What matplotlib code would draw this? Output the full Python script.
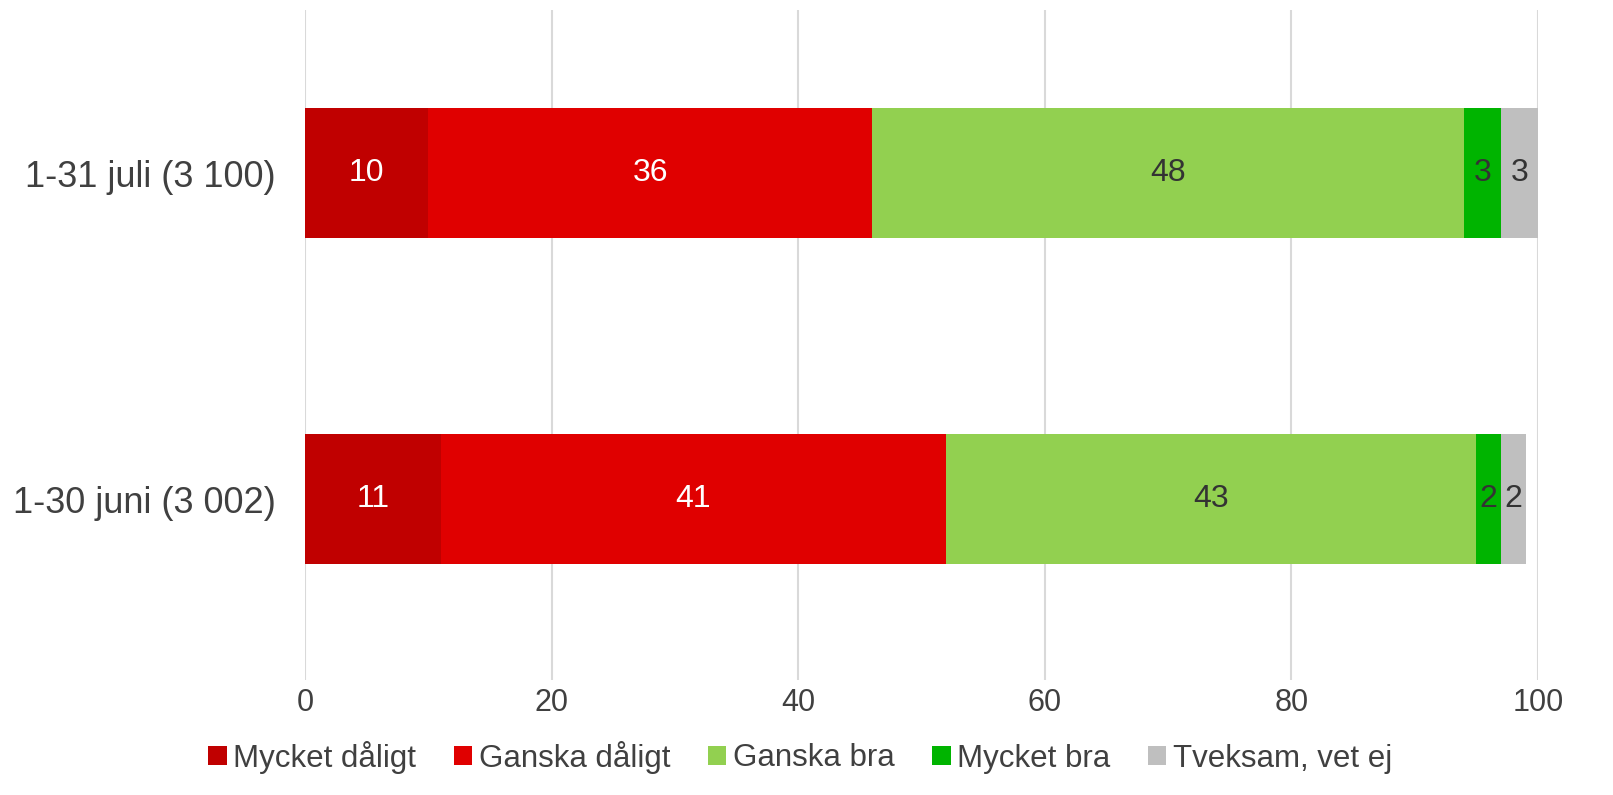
import matplotlib
matplotlib.use("Agg")
import matplotlib.pyplot as plt
import numpy as np

plt.rcParams['font.family'] = ['Liberation Sans', 'DejaVu Sans']

categories = ["1-30 juni (3 002)", "1-31 juli (3 100)"]
series_names = ["Mycket dåligt", "Ganska dåligt", "Ganska bra", "Mycket bra", "Tveksam, vet ej"]
values = {
    "Mycket dåligt": [11, 10],
    "Ganska dåligt": [41, 36],
    "Ganska bra": [43, 48],
    "Mycket bra": [2, 3],
    "Tveksam, vet ej": [2, 3],
}
colors = ["#C00000", "#E00000", "#92D050", "#00B400", "#BFBFBF"]
label_colors = ["white", "white", "#333333", "#333333", "#333333"]
xticks = [0, 20, 40, 60, 80, 100]

fig = plt.figure(figsize=(16.13, 7.95), dpi=100)
ax = fig.add_axes([305/1613, 1-680/795, (1538-305)/1613, 670/795])

y = np.arange(len(categories))
left = np.zeros(len(categories))
handles = []
for name, col, lc in zip(series_names, colors, label_colors):
    v = np.array(values[name], dtype=float)
    b = ax.barh(y, v, left=left, height=0.4, color=col, label=name, linewidth=0)
    handles.append(b)
    for yi, (l, w) in enumerate(zip(left, v)):
        ax.text(l + w/2, yi, f"{int(w)}", ha='center', va='center', fontsize=23, color=lc)
    left += v

ax.set_xlim(0, 100)
ax.set_ylim(-0.555, 1.5)
ax.set_xticks(xticks)
ax.set_xticklabels([str(t) for t in xticks], fontsize=22, color="#404040")
ax.set_yticks(y)
ax.set_yticklabels(categories, fontsize=26, color="#404040")
ax.tick_params(axis='both', length=0)
ax.tick_params(axis='x', pad=6)
ax.tick_params(axis='y', pad=21)
ax.xaxis.grid(True, color="#D9D9D9", linewidth=1.5)
ax.set_axisbelow(True)
for s in ax.spines.values():
    s.set_visible(False)

fig.legend(handles=handles, labels=series_names, loc='center', bbox_to_anchor=(800/1613, 1-757/795),
           ncol=5, frameon=False, fontsize=22.5, handlelength=0.6, handleheight=0.6,
           handletextpad=0.2, columnspacing=1.2, labelcolor="#404040")

fig.savefig("out.png", dpi=100)
